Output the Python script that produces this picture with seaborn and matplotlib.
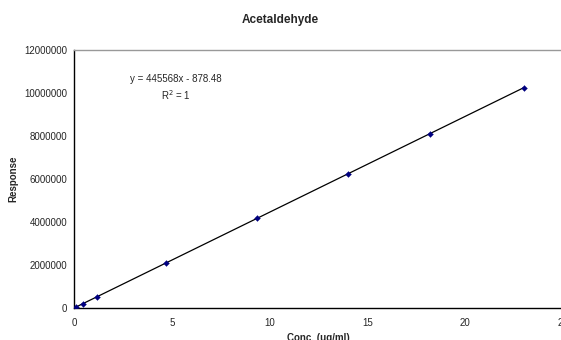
import matplotlib
matplotlib.use("Agg")
import matplotlib.pyplot as plt
import numpy as np
import pandas as pd
import seaborn as sns

# calibration points
conc = [0.12, 0.47, 1.17, 4.69, 9.38, 14.0, 18.2, 23.0]
response = [52000, 208000, 520000, 2090000, 4180000, 6240000, 8110000, 10250000]
eq_text = "y = 445568x - 878.48"
r2_text = "R$^2$ = 1"
y_ticks = [0, 2000000, 4000000, 6000000, 8000000, 10000000, 12000000]
x_ticks = [0, 5, 10, 15, 20, 25]

sns.set_style("white")
plt.rcParams['font.family'] = ['Liberation Sans', 'DejaVu Sans']

df = pd.DataFrame({'conc': conc, 'response': response})
slope, icpt = np.polyfit(df['conc'], df['response'], 1)
fit = pd.DataFrame({'conc': [min(conc), max(conc)]})
fit['response'] = slope * fit['conc'] + icpt

fig = plt.figure(figsize=(5.61, 3.40), dpi=100)
ax = fig.add_axes([74 / 561, 1 - 308 / 340, (563 - 74) / 561, (308 - 50) / 340])

sns.lineplot(data=fit, x='conc', y='response', ax=ax, color='black', linewidth=0.9)
sns.scatterplot(data=df, x='conc', y='response', ax=ax, marker='D', s=9,
                color='#000080', edgecolor='#000080', zorder=3)

ax.set_xlim(0, 25)
ax.set_ylim(0, 12000000)
ax.set_xticks(x_ticks)
ax.set_yticks(y_ticks)
ax.set_xticklabels([str(t) for t in x_ticks], fontsize=7)
ax.set_yticklabels([str(t) for t in y_ticks], fontsize=7)
ax.tick_params(axis='both', direction='out', length=3, width=0.8, color='black', pad=2)
ax.tick_params(axis='x', pad=4)

for s in ['left', 'bottom']:
    ax.spines[s].set_color('black')
    ax.spines[s].set_linewidth(1.0)
for s in ['top', 'right']:
    ax.spines[s].set_color('#999999')
    ax.spines[s].set_linewidth(1.0)

ax.set_xlabel('Conc. (ug/ml)', fontsize=7, fontweight='bold', labelpad=4)
ax.set_ylabel('Response', fontsize=7, fontweight='bold', labelpad=4)

fig.text(176 / 561, 1 - 79 / 340, eq_text, fontsize=7, ha='center', va='center')
fig.text(176 / 561, 1 - 95 / 340, r2_text, fontsize=7, ha='center', va='center')
fig.text(0.5, 1 - 20 / 340, 'Acetaldehyde', fontsize=8.5, fontweight='bold',
         ha='center', va='center')

fig.savefig('out.png', dpi=100)
